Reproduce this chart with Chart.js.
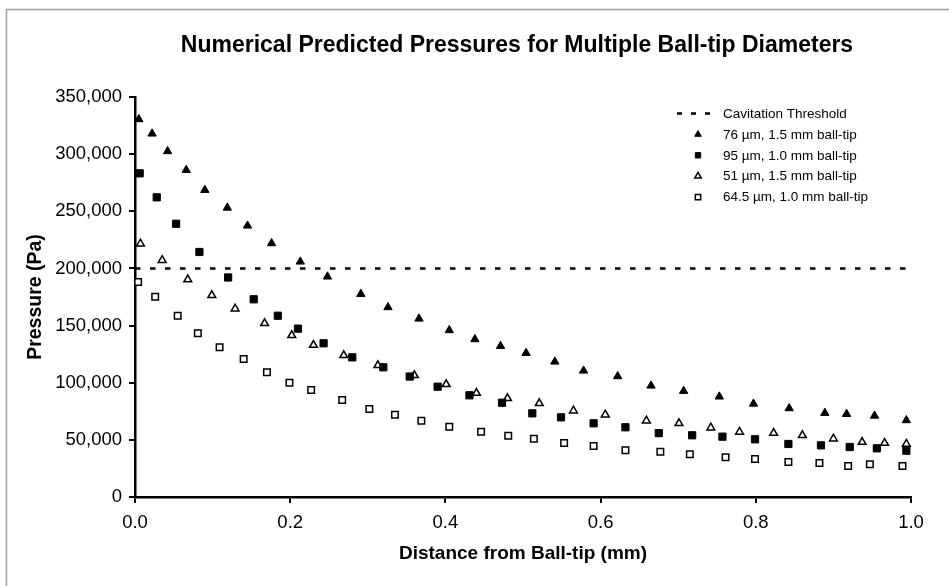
<!DOCTYPE html>
<html>
<head>
<meta charset="utf-8">
<title>Numerical Predicted Pressures</title>
<script src="https://cdn.jsdelivr.net/npm/chart.js@4/dist/chart.umd.min.js"></script>
<style>
  html, body { margin: 0; padding: 0; background: #fff; overflow: hidden; }
  #wrap { width: 949px; height: 586px; }
</style>
</head>
<body>
<div id="wrap"><canvas id="pressureChart" width="949" height="586"></canvas></div>
<script>
// 압력 분포 데이터 (거리 mm, 압력 Pa)
const x76 = [0.005, 0.022, 0.042, 0.066, 0.090, 0.119, 0.145, 0.176, 0.213, 0.248, 0.291, 0.326, 0.366, 0.405, 0.438,
  0.471, 0.504, 0.541, 0.578, 0.622, 0.665, 0.707, 0.753, 0.797, 0.843, 0.889, 0.917, 0.953, 0.994];
const p76 = [330500, 317900, 302500, 286100, 268600, 253100, 237400, 222000, 205900, 192800, 177600, 166000, 156000, 145900, 138000,
  132100, 126000, 118400, 110500, 105600, 97400, 92750, 87800, 81600, 77600, 73500, 72600, 71100, 67100];

const x95 = [0.006, 0.028, 0.053, 0.083, 0.120, 0.153, 0.184, 0.210, 0.243, 0.280, 0.320, 0.354, 0.390, 0.431,
  0.473, 0.512, 0.549, 0.591, 0.632, 0.675, 0.718, 0.757, 0.799, 0.842, 0.884, 0.921, 0.956, 0.994];
const p95 = [283200, 262200, 239100, 214400, 192100, 173000, 158600, 147300, 134500, 122200, 113500, 105400, 96500, 89000,
  82500, 73200, 69700, 64500, 61000, 55900, 54000, 52800, 50500, 46400, 45200, 43750, 42600, 40500];

const x51 = [0.007, 0.035, 0.068, 0.099, 0.129, 0.167, 0.202, 0.230, 0.269, 0.313, 0.360, 0.401, 0.440, 0.480,
  0.521, 0.565, 0.606, 0.659, 0.701, 0.742, 0.779, 0.823, 0.860, 0.900, 0.937, 0.966, 0.994];
const p51 = [221600, 207200, 190300, 176500, 164800, 152000, 141500, 133000, 124000, 115200, 106500, 98600, 91000, 86400,
  82000, 75500, 72000, 66800, 64500, 60600, 56900, 56000, 54000, 51000, 48100, 47250, 46400];

const x645 = [0.004, 0.026, 0.055, 0.081, 0.109, 0.140, 0.170, 0.199, 0.227, 0.267, 0.302, 0.335, 0.369, 0.405, 0.446,
  0.481, 0.514, 0.553, 0.591, 0.632, 0.677, 0.715, 0.761, 0.799, 0.842, 0.882, 0.919, 0.947, 0.989];
const p645 = [188100, 175200, 158600, 143200, 131000, 120750, 109100, 100000, 93600, 84900, 77000, 72000, 66800, 61500, 57100,
  53600, 51000, 47250, 44600, 40900, 39600, 37400, 34700, 33250, 30600, 29750, 27100, 28600, 27100];

// 캐비테이션 임계값
const thresholdX = [0, 1];
const thresholdP = [200000, 200000];

const TITLE = 'Numerical Predicted Pressures for Multiple Ball-tip Diameters';
const FONT = 'Arial, "Liberation Sans", sans-serif';

function toPoints(xs, ys) {
  return xs.map((x, i) => ({ x, y: ys[i] }));
}

// 바깥 회색 테두리
const frame = {
  id: 'frame',
  beforeDraw(chart) {
    const { ctx } = chart;
    ctx.save();
    ctx.strokeStyle = '#a0a0a0';
    ctx.lineWidth = 1.5;
    ctx.strokeRect(6.5, 9.5, 1200, 1200);
    ctx.restore();
  },
};

// 제목은 플롯 영역 기준 가운데 정렬 (기본 title 플러그인은 캔버스 전체 기준)
const plotTitle = {
  id: 'plotTitle',
  afterDraw(chart) {
    const { ctx, chartArea } = chart;
    ctx.save();
    ctx.font = 'bold 23px ' + FONT;
    ctx.fillStyle = '#000';
    ctx.textAlign = 'center';
    ctx.textBaseline = 'middle';
    ctx.fillText(TITLE, (chartArea.left + chartArea.right) / 2 - 6, 46);
    ctx.restore();
  },
};

// 플롯 안쪽 오른쪽 위 범례
const insetLegend = {
  id: 'insetLegend',
  afterDatasetsDraw(chart) {
    const { ctx, chartArea } = chart;
    const mx = chartArea.right - 213;
    const tx = chartArea.right - 188;
    ctx.save();
    ctx.font = '13.5px ' + FONT;
    ctx.textBaseline = 'middle';
    ctx.textAlign = 'left';
    chart.data.datasets.forEach((ds, i) => {
      const y = chartArea.top + 16.5 + i * 20.9;
      if (ds.showLine) {
        ctx.strokeStyle = ds.borderColor;
        ctx.lineWidth = ds.borderWidth;
        ctx.setLineDash([5, 9]);
        ctx.beginPath();
        ctx.moveTo(mx - 21, y);
        ctx.lineTo(mx + 14, y);
        ctx.stroke();
        ctx.setLineDash([]);
      } else {
        ctx.fillStyle = ds.backgroundColor;
        ctx.strokeStyle = ds.borderColor;
        ctx.lineWidth = ds.borderWidth;
        Chart.helpers.drawPoint(ctx, {
          pointStyle: ds.pointStyle,
          rotation: 0,
          radius: ds.pointStyle === 'rect' ? 3.8 : 3.8,
          borderWidth: ds.borderWidth,
        }, mx, y);
      }
      ctx.fillStyle = '#000';
      ctx.fillText(ds.label, tx, y + 0.5);
    });
    ctx.restore();
  },
};

new Chart(document.getElementById('pressureChart'), {
  type: 'scatter',
  data: {
    datasets: [
      {
        label: 'Cavitation Threshold',
        data: toPoints(thresholdX, thresholdP),
        showLine: true,
        borderColor: '#000',
        borderWidth: 2.5,
        borderDash: [5.5, 9.5],
        pointRadius: 0,
        order: 5,
      },
      {
        label: '76 µm, 1.5 mm ball-tip',
        data: toPoints(x76, p76),
        pointStyle: 'triangle',
        pointRadius: 4.8,
        backgroundColor: '#000',
        borderColor: '#000',
        borderWidth: 1,
        clip: false,
      },
      {
        label: '95 µm, 1.0 mm ball-tip',
        data: toPoints(x95, p95),
        pointStyle: 'rect',
        pointRadius: 5.1,
        backgroundColor: '#000',
        borderColor: '#000',
        borderWidth: 1,
        clip: false,
      },
      {
        label: '51 µm, 1.5 mm ball-tip',
        data: toPoints(x51, p51),
        pointStyle: 'triangle',
        pointRadius: 4.5,
        backgroundColor: '#fff',
        borderColor: '#000',
        borderWidth: 1.5,
        clip: false,
      },
      {
        label: '64.5 µm, 1.0 mm ball-tip',
        data: toPoints(x645, p645),
        pointStyle: 'rect',
        pointRadius: 4.6,
        backgroundColor: '#fff',
        borderColor: '#000',
        borderWidth: 1.5,
        clip: false,
      },
    ],
  },
  options: {
    responsive: false,
    animation: false,
    devicePixelRatio: 1,
    layout: { padding: { left: 0, right: 38, top: 97, bottom: 0 } },
    plugins: {
      legend: { display: false },
      tooltip: { enabled: false },
      title: { display: false },
    },
    scales: {
      x: {
        type: 'linear',
        min: 0,
        max: 1,
        afterFit: (s) => { s.height = 89; },
        ticks: {
          stepSize: 0.2,
          color: '#000',
          padding: 9,
          font: { family: FONT, size: 18.5 },
          callback: (v) => v.toFixed(1),
        },
        grid: { drawOnChartArea: false, drawTicks: true, tickLength: 6, tickColor: '#000', lineWidth: 2 },
        border: { display: true, color: '#000', width: 2.5 },
        title: {
          display: true,
          text: 'Distance from Ball-tip (mm)',
          color: '#000',
          font: { family: FONT, size: 19, weight: 'bold' },
          padding: { top: 0, bottom: 21 },
        },
      },
      y: {
        type: 'linear',
        min: 0,
        max: 350000,
        afterFit: (s) => { s.width = 135; },
        ticks: {
          stepSize: 50000,
          color: '#000',
          padding: 7,
          font: { family: FONT, size: 18.5 },
          callback: (v) => v.toLocaleString('en-US'),
        },
        grid: { drawOnChartArea: false, drawTicks: true, tickLength: 6, tickColor: '#000', lineWidth: 2 },
        border: { display: true, color: '#000', width: 2.5 },
        title: {
          display: true,
          text: 'Pressure (Pa)',
          color: '#000',
          font: { family: FONT, size: 19.5, weight: 'bold' },
          padding: { top: 24, bottom: 0 },
        },
      },
    },
  },
  plugins: [frame, plotTitle, insetLegend],
});
</script>
</body>
</html>
